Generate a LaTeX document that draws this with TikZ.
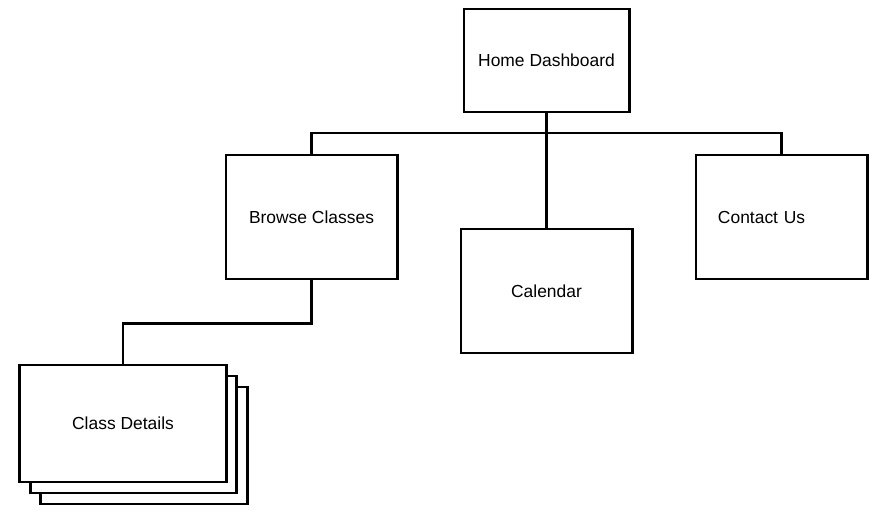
\documentclass[tikz,border=0pt]{standalone}
\usepackage{fontspec}
\setmainfont{Liberation Sans}
\usepackage{tikz}
\usetikzlibrary{positioning}
\tikzset{
    page/.style={draw=black, fill=white, line width=2.1pt, inner sep=0pt,
        font=\fontsize{12.4}{15}\selectfont},
    link/.style={draw=black, line width=2.1pt}
}

\begin{document}
\begin{tikzpicture}[x=0.025cm, y=-0.025cm]

    \useasboundingbox (0, 0) rectangle (878, 525);

    \node[page, minimum width=4.125cm, minimum height=2.575cm]
        (home) at (546.5, 60.5) {Home Dashboard};
    \node[page, minimum width=4.275cm, minimum height=3.1cm]
        (browse) at (311.5, 217) {Browse Classes};
    \node[page, minimum width=4.275cm, minimum height=3.1cm]
        (calendar) at (546.5, 291) {Calendar};
    \node[page, minimum width=4.275cm, minimum height=3.1cm,
        text width=3.175cm, inner xsep=0.55cm, align=left]
        (contact) at (781.5, 217) {Contact Us};

    % stacked pages behind the details box
    \node[page, minimum width=5.15cm, minimum height=2.925cm]
        (details3) at (144, 445.5) {};
    \node[page, minimum width=5.15cm, minimum height=2.925cm]
        (details2) at (133.5, 434.5) {};
    \node[page, minimum width=5.15cm, minimum height=2.925cm]
        (details) at (123, 423.5) {Class Details};

    \coordinate (hub) at (546.5, 133);

    \draw[link] (home.south) -- (calendar.north);
    \draw[link] (browse.north) -- (browse.north |- hub)
        -- (contact.north |- hub) -- (contact.north);
    \draw[link] (browse.south) -- ++(0, 43) -| (details.north);

\end{tikzpicture}
\end{document}
